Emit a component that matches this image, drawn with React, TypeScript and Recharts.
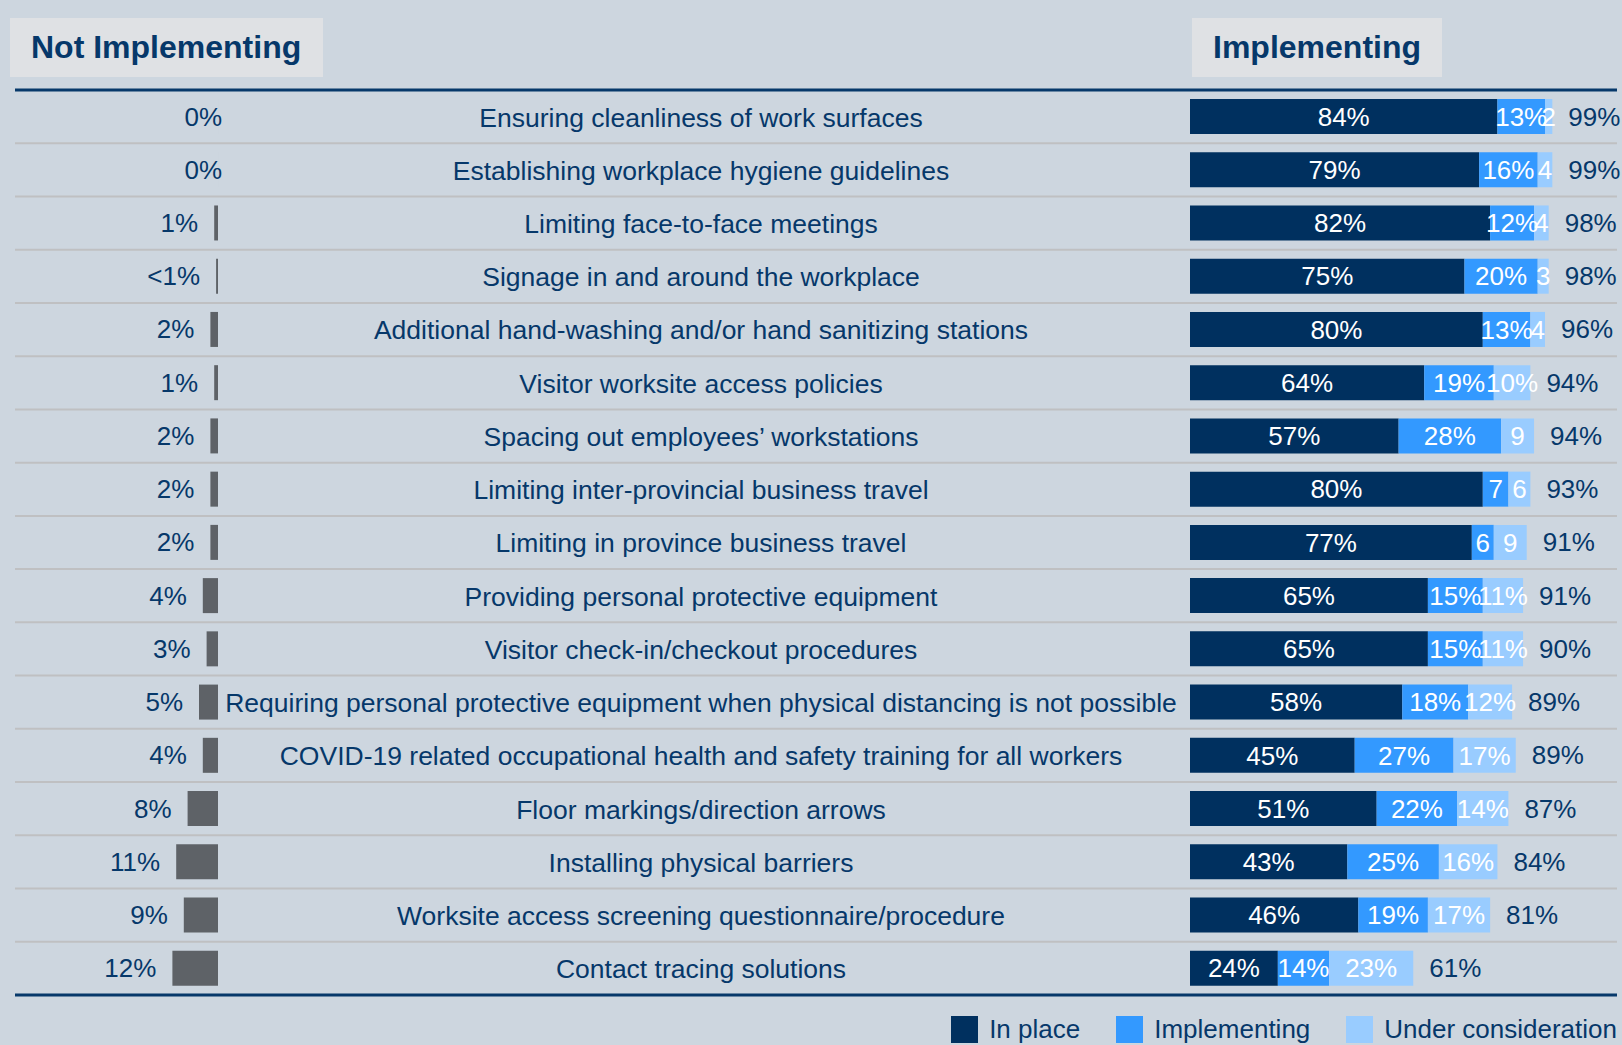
import React from 'react';
import { BarChart, Bar, XAxis, YAxis, ReferenceLine, LabelList } from 'recharts';

document.body.style.margin = '0';

const categories = [
  'Ensuring cleanliness of work surfaces',
  'Establishing workplace hygiene guidelines',
  'Limiting face-to-face meetings',
  'Signage in and around the workplace',
  'Additional hand-washing and/or hand sanitizing stations',
  'Visitor worksite access policies',
  'Spacing out employees\u2019 workstations',
  'Limiting inter-provincial business travel',
  'Limiting in province business travel',
  'Providing personal protective equipment',
  'Visitor check-in/checkout procedures',
  'Requiring personal protective equipment when physical distancing is not possible',
  'COVID-19 related occupational health and safety training for all workers',
  'Floor markings/direction arrows',
  'Installing physical barriers',
  'Worksite access screening questionnaire/procedure',
  'Contact tracing solutions',
];
const notImplementing = [0, 0, 1, 0.5, 2, 1, 2, 2, 2, 4, 3, 5, 4, 8, 11, 9, 12];
const inPlace = [84, 79, 82, 75, 80, 64, 57, 80, 77, 65, 65, 58, 45, 51, 43, 46, 24];
const implementing = [13, 16, 12, 20, 13, 19, 28, 7, 6, 15, 15, 18, 27, 22, 25, 19, 14];
const underConsideration = [2, 4, 4, 3, 4, 10, 9, 6, 9, 11, 11, 12, 17, 14, 16, 17, 23];
const totals = [99, 99, 98, 98, 96, 94, 94, 93, 91, 91, 90, 89, 89, 87, 84, 81, 61];

const data = categories.map((name, i) => ({
  name,
  notImpl: notImplementing[i],
  inPlace: inPlace[i],
  implementing: implementing[i],
  consideration: underConsideration[i],
  total: totals[i],
}));

// layout
const W = 1622;
const H = 1045;
const PLOT_L = 15;
const PLOT_R = 1617;
const RIGHT_ZERO = 1190;
const RIGHT_PX = 3.66;
const LEFT_ZERO = 218;
const LEFT_PX = 3.8;
const LABEL_X = 701;

const rightDomain = [-(RIGHT_ZERO - PLOT_L) / RIGHT_PX, (PLOT_R - RIGHT_ZERO) / RIGHT_PX];
const leftDomain = [-(PLOT_R - LEFT_ZERO) / LEFT_PX, (LEFT_ZERO - PLOT_L) / LEFT_PX];

const NAVY = '#06386a';
const IN_PLACE = '#00305f';
const IMPL = '#3399ff';
const CONSID = '#99ccff';
const GREY_BAR = '#5e6267';
const BG = '#cdd6df';
const FONT = '"Liberation Sans", Arial, sans-serif';

const pct = (v: number) => (v < 10 ? `${v}` : `${v}%`);
const notImplFmt = (v: number) => (v === 0 ? '0%' : v < 1 ? '<1%' : `${v}%`);

const box = (p: any) => {
  const vb = p.viewBox ?? p;
  return { x: Number(vb.x), y: Number(vb.y), width: Number(vb.width) || 0, height: Number(vb.height) };
};

// category names, drawn centred between the two bar groups
const CategoryLabel = (props: any) => {
  const { y, height } = box(props);
  return (
    <text x={LABEL_X} y={y + height / 2 + 1} textAnchor="middle" dominantBaseline="central" fontSize={26.5} fill={NAVY}>
      {props.value}
    </text>
  );
};

const NotImplLabel = (props: any) => {
  const { x, y, width, height } = box(props);
  const left = Math.min(x, x + width);
  const right = Math.max(x, x + width);
  const v = Number(props.value);
  const endX = v === 0 ? right + 4 : left - 16;
  return (
    <text x={endX} y={y + height / 2} textAnchor="end" dominantBaseline="central" fontSize={26} fill={NAVY}>
      {notImplFmt(v)}
    </text>
  );
};

const TotalLabel = (props: any) => {
  const { x, y, width, height } = box(props);
  const right = Math.max(x, x + width);
  return (
    <text x={right + 16} y={y + height / 2} textAnchor="start" dominantBaseline="central" fontSize={26} fill={NAVY}>
      {`${props.value}%`}
    </text>
  );
};

const legendItems = [
  { label: 'In place', color: IN_PLACE },
  { label: 'Implementing', color: IMPL },
  { label: 'Under consideration', color: CONSID },
];

const HeaderBox = ({ left, width, text }: { left: number; width: number; text: string }) => (
  <div
    style={{
      position: 'absolute',
      left,
      top: 18,
      width,
      height: 59,
      background: '#dfe1e4',
      display: 'flex',
      alignItems: 'center',
      paddingLeft: 21,
      boxSizing: 'border-box',
      fontSize: 32,
      fontWeight: 'bold',
      color: NAVY,
    }}
  >
    {text}
  </div>
);

export default function App() {
  return (
    <div style={{ position: 'relative', width: W, height: H, background: BG, overflow: 'hidden', fontFamily: FONT }}>
      <HeaderBox left={10} width={313} text="Not Implementing" />
      <HeaderBox left={1192} width={250} text="Implementing" />

      <div style={{ position: 'absolute', left: 0, top: 0 }}>
        <BarChart width={W} height={H} data={data} layout="vertical" margin={{ top: 90, right: W - PLOT_R, bottom: 50, left: PLOT_L }}>
          <XAxis xAxisId="left" type="number" domain={leftDomain} reversed hide allowDataOverflow />
          <XAxis xAxisId="right" type="number" domain={rightDomain} hide allowDataOverflow />
          <YAxis dataKey="name" type="category" hide />
          <YAxis yAxisId="stack" dataKey="name" type="category" hide />

          {categories.slice(1).map((c) => (
            <ReferenceLine key={c} y={c} position="start" xAxisId="right" stroke="#bfc0c2" strokeWidth={2} />
          ))}
          <ReferenceLine y={categories[0]} position="start" xAxisId="right" stroke={NAVY} strokeWidth={3} />
          <ReferenceLine y={categories[categories.length - 1]} position="end" xAxisId="right" stroke={NAVY} strokeWidth={3} />

          <Bar dataKey="notImpl" xAxisId="left" fill={GREY_BAR} barSize={35} minPointSize={0.01} isAnimationActive={false}>
            <LabelList dataKey="notImpl" content={<NotImplLabel />} />
          </Bar>
          <Bar dataKey="inPlace" xAxisId="right" yAxisId="stack" stackId="a" fill={IN_PLACE} barSize={35} isAnimationActive={false}>
            <LabelList dataKey="inPlace" position="center" fill="#ffffff" fontSize={26} formatter={pct} />
            <LabelList dataKey="name" content={<CategoryLabel />} />
          </Bar>
          <Bar dataKey="implementing" xAxisId="right" yAxisId="stack" stackId="a" fill={IMPL} barSize={35} isAnimationActive={false}>
            <LabelList dataKey="implementing" position="center" fill="#ffffff" fontSize={26} formatter={pct} />
          </Bar>
          <Bar dataKey="consideration" xAxisId="right" yAxisId="stack" stackId="a" fill={CONSID} barSize={35} isAnimationActive={false}>
            <LabelList dataKey="consideration" position="center" fill="#ffffff" fontSize={26} formatter={pct} />
            <LabelList dataKey="total" content={<TotalLabel />} />
          </Bar>
        </BarChart>
      </div>

      <div
        style={{
          position: 'absolute',
          top: 1016,
          right: W - PLOT_R,
          display: 'flex',
          alignItems: 'center',
          gap: 36,
          fontSize: 26,
          color: NAVY,
          lineHeight: '27px',
        }}
      >
        {legendItems.map((it) => (
          <div key={it.label} style={{ display: 'flex', alignItems: 'center' }}>
            <span style={{ display: 'inline-block', width: 27, height: 27, background: it.color, marginRight: 11 }} />
            <span>{it.label}</span>
          </div>
        ))}
      </div>
    </div>
  );
}
